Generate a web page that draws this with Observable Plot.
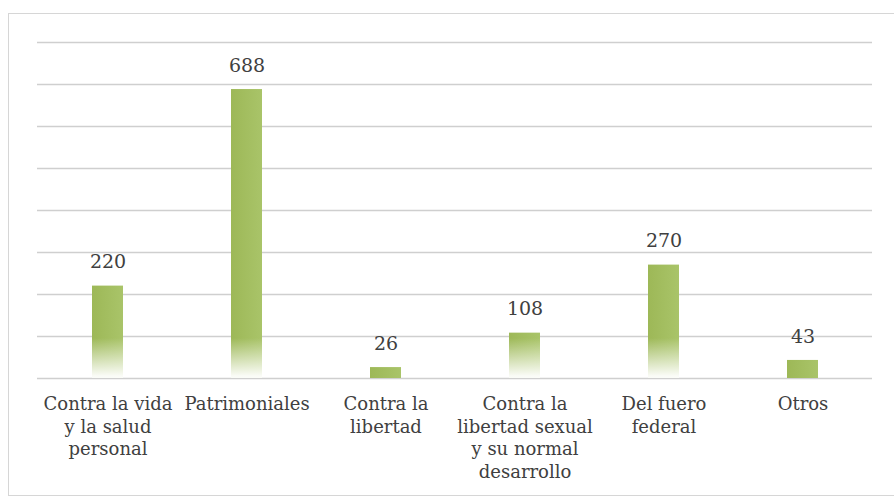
<!DOCTYPE html>
<html>
<head>
<meta charset="utf-8">
<script src="https://cdn.jsdelivr.net/npm/d3@7"></script>
<script src="https://cdn.jsdelivr.net/npm/@observablehq/plot@0.6"></script>
<style>
  html, body { margin: 0; padding: 0; background: #fff; }
  #wrap { position: relative; width: 894px; height: 500px; overflow: hidden; }
  #frame { position: absolute; left: 8px; top: 13px; width: 892px; height: 483px; border: 1px solid #d6d6d6; box-sizing: border-box; pointer-events: none; }
  #chart { position: absolute; left: 0; top: 0; }
</style>
</head>
<body>
<div id="wrap"><div id="frame"></div><div id="chart"></div></div>
<script>
const categories = [
  "Contra la vida\ny la salud\npersonal",
  "Patrimoniales",
  "Contra la\nlibertad",
  "Contra la\nlibertad sexual\ny su normal\ndesarrollo",
  "Del fuero\nfederal",
  "Otros"
];
const values = [220, 688, 26, 108, 270, 43];
const yTicks = [0, 100, 200, 300, 400, 500, 600, 700, 800];

const data = categories.map((c, i) => ({category: c, value: values[i]}));

const plot = Plot.plot({
  width: 894,
  height: 500,
  marginLeft: 37,
  marginRight: 22,
  marginTop: 42,
  marginBottom: 122,
  style: {fontFamily: "'DejaVu Serif', serif", background: "transparent", color: "#404040"},
  x: {domain: categories, paddingInner: 0.78, paddingOuter: 0.39, label: null},
  y: {domain: [0, 800], axis: null},
  marks: [
    Plot.ruleY(yTicks, {stroke: "#cfcfcf", strokeWidth: 1.3}),
    Plot.barY(data, {x: "category", y: "value", fill: "url(#barGrad)"}),
    Plot.barY(data.filter(d => d.value >= 100), {x: "category", y: "value", fill: "url(#fadeGrad)"}),
    Plot.text(data, {x: "category", y: "value", text: d => String(d.value), dy: -24, fontSize: 19, fill: "#404040"}),
    Plot.axisX({tickSize: 0, tickPadding: 15, fontSize: 18, lineHeight: 1.27, fill: "#404040", label: null, textAnchor: "middle", lineAnchor: "top"})
  ]
});

const svg = d3.select(plot);
const defs = svg.insert("defs", ":first-child");
const g1 = defs.append("linearGradient").attr("id", "barGrad").attr("x1", 0).attr("x2", 1).attr("y1", 0).attr("y2", 0);
g1.append("stop").attr("offset", "0%").attr("stop-color", "#9db857");
g1.append("stop").attr("offset", "100%").attr("stop-color", "#a9c469");
const g2 = defs.append("linearGradient").attr("id", "fadeGrad").attr("gradientUnits", "userSpaceOnUse")
  .attr("x1", 0).attr("x2", 0).attr("y1", 338).attr("y2", 376);
g2.append("stop").attr("offset", "0%").attr("stop-color", "#ffffff").attr("stop-opacity", 0);
g2.append("stop").attr("offset", "100%").attr("stop-color", "#ffffff").attr("stop-opacity", 0.95);

document.getElementById("chart").appendChild(plot);
</script>
</body>
</html>
